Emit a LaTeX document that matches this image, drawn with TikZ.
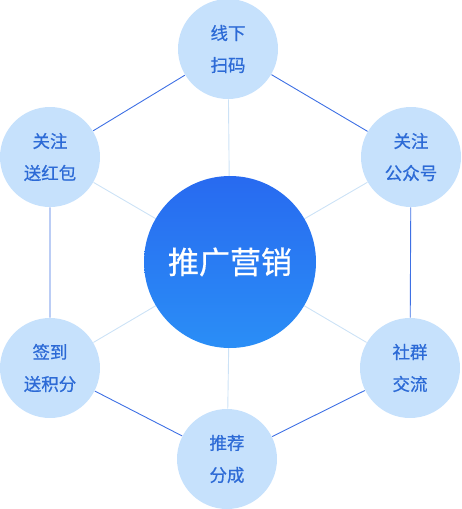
\documentclass[tikz,border=0pt]{standalone}
\usepackage{fontspec}
\setmainfont{Noto Sans CJK SC}
\newfontfamily\labelfont[FakeBold=0.6]{Noto Sans CJK SC}
\definecolor{ringblue}{RGB}{62,112,228}
\definecolor{spokeblue}{RGB}{204,226,246}
\definecolor{bubble}{RGB}{198,225,252}
\definecolor{labelblue}{RGB}{44,106,214}
\definecolor{hubtop}{RGB}{40,106,240}
\definecolor{hubbottom}{RGB}{42,142,246}

\begin{document}
\begin{tikzpicture}[x=1pt,y=-1pt,line width=0.9pt,
    bubblenode/.style={circle,fill=bubble,minimum size=100pt,inner sep=0pt,
      text=labelblue,font=\labelfont\fontsize{17.5}{32}\selectfont,align=center},
    hubnode/.style={circle,minimum size=172pt,inner sep=0pt,
      top color=hubtop,bottom color=hubbottom,text=white,
      font=\labelfont\fontsize{31}{36}\selectfont}]
  \useasboundingbox (0,0) rectangle (462,509);

  \coordinate (H) at (230,262);

  \node[bubblenode] (offline) at (228,49)  {线下\\扫码};
  \node[bubblenode] (wechat)  at (411,157) {关注\\公众号};
  \node[bubblenode] (group)   at (410,368) {社群\\交流};
  \node[bubblenode] (refer)   at (227,459) {推荐\\分成};
  \node[bubblenode] (checkin) at (50,368)  {签到\\送积分};
  \node[bubblenode] (redpack) at (50,157)  {关注\\送红包};

  % spokes
  \foreach \n in {offline,wechat,group,refer,checkin,redpack}
    \draw[spokeblue] (H) -- (\n);

  % outer ring
  \draw[ringblue] (offline) -- (wechat) -- (group) -- (refer)
      -- (checkin) -- (redpack) -- (offline);

  \node[hubnode] (hub) at (H) {推广营销};
\end{tikzpicture}
\end{document}
